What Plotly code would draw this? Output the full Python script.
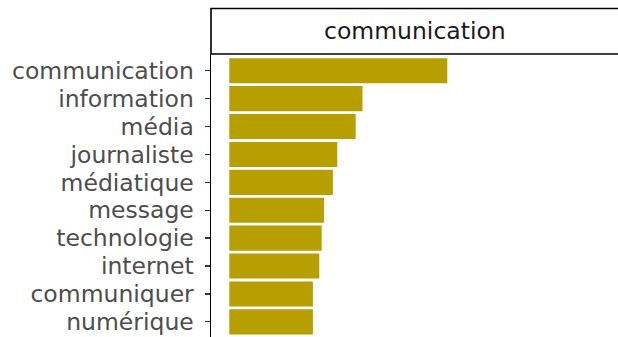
import plotly.graph_objects as go

terms = ["communication", "information", "média", "journaliste", "médiatique",
         "message", "technologie", "internet", "communiquer", "numérique"]
values = [54.5, 33.3, 31.6, 27.0, 25.9, 23.7, 23.1, 22.5, 20.9, 20.9]
facet_title = "communication"

W, H = 618, 337
L, T = 211, 54
FONT = "DejaVu Sans"

fig = go.Figure(go.Bar(
    x=values, y=terms, orientation="h",
    marker=dict(color="#B79F00", line=dict(width=0)),
    width=0.9,
))

plot_h = H - T
row_px = 27.9
ytop = -0.6
ybot = ytop + plot_h / row_px
px_per_unit = 4.0
xmin = -18.3 / px_per_unit
xmax = xmin + (W - L) / px_per_unit

fig.update_layout(
    width=W, height=H,
    margin=dict(l=L, r=0, t=T, b=0, pad=0, autoexpand=False),
    paper_bgcolor="white", plot_bgcolor="white",
    showlegend=False,
    font=dict(family=FONT),
    xaxis=dict(range=[xmin, xmax], visible=False, showgrid=False,
               zeroline=False, automargin=False),
    yaxis=dict(
        range=[ybot, ytop], type="category",
        tickmode="array", tickvals=terms, ticktext=terms,
        automargin=False,
        showline=True, linecolor="black", linewidth=1.5,
        ticks="outside", ticklen=5, tickcolor="#333333", tickwidth=1.3,
        ticklabelstandoff=6,
        tickfont=dict(family=FONT, size=23.5, color="#4D4D4D"),
        showgrid=False, zeroline=False,
    ),
    shapes=[dict(
        type="rect", xref="paper", yref="paper",
        x0=0, x1=1.02, y0=1.0, y1=1 + 45.5 / plot_h,
        line=dict(color="black", width=1.6), fillcolor="white", layer="above",
    )],
    annotations=[dict(
        text=facet_title, xref="paper", yref="paper",
        x=0.5, y=1 + 23 / plot_h, xanchor="center", yanchor="middle",
        showarrow=False, font=dict(family=FONT, size=23.5, color="#1A1A1A"),
    )],
)

fig.write_html(
    "out.html",
    config={"displayModeBar": False, "staticPlot": True},
    post_script="document.body.style.margin='0';document.body.style.overflow='hidden';",
)
